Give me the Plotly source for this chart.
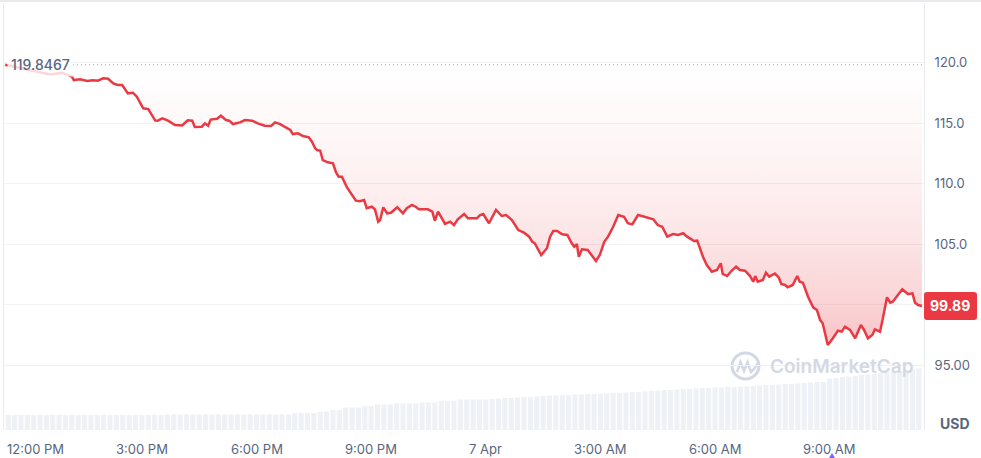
import pandas as pd
import plotly.graph_objects as go

# ---------------- data ----------------
open_time = pd.Timestamp("2025-04-06 11:25")
open_price = 119.8467
last_price = 99.89

minutes_since_open = [
    0, 44, 71, 90, 105, 108, 118, 129, 138, 146, 154, 162, 170, 177, 184, 193, 201, 207, 217, 225,
    236, 240, 247, 256, 267, 278, 287, 294, 298, 309, 314, 319, 323, 333, 339, 347, 352, 358, 369, 377,
    388, 397, 408, 418, 424, 432, 440, 448, 452, 460, 468, 477, 482, 487, 490, 495, 499, 507, 515, 520,
    524, 529, 537, 545, 551, 557, 564, 568, 576, 581, 586, 589, 594, 600, 606, 616, 625, 631, 639, 645,
    650, 664, 671, 675, 680, 691, 699, 705, 711, 721, 727, 741, 746, 751, 760, 771, 780, 787, 796, 806,
    815, 823, 828, 832, 842, 851, 856, 861, 867, 875, 883, 890, 894, 898, 901, 906, 915, 928, 934, 941,
    947, 955, 963, 972, 978, 985, 994, 1000, 1007, 1011, 1018, 1025, 1032, 1040, 1049, 1057, 1065, 1071, 1076, 1082,
    1087, 1096, 1102, 1110, 1118, 1124, 1127, 1134, 1141, 1148, 1154, 1162, 1170, 1175, 1178, 1182, 1190, 1195, 1200, 1209,
    1215, 1219, 1225, 1229, 1237, 1244, 1248, 1253, 1261, 1269, 1275, 1280, 1284, 1292, 1300, 1308, 1314, 1319, 1327, 1335,
    1344, 1349, 1355, 1362, 1366, 1374, 1378, 1385, 1390, 1394, 1409, 1418, 1425, 1429, 1434, 1440,
]

prices = [
    119.85, 119.33, 119.04, 119.19, 118.87, 118.58, 118.64, 118.50, 118.56, 118.53, 118.72, 118.69, 118.31, 118.17, 118.17, 117.48, 117.53, 117.20, 116.24, 116.18,
    115.23, 115.22, 115.41, 115.22, 114.86, 114.82, 115.25, 115.22, 114.69, 114.72, 115.00, 114.80, 115.31, 115.38, 115.63, 115.27, 115.22, 114.94, 115.08, 115.27,
    115.22, 115.00, 114.80, 114.78, 115.08, 114.94, 114.67, 114.45, 114.11, 114.17, 113.95, 113.84, 113.48, 112.93, 112.79, 112.73, 111.96, 111.77, 111.69, 110.91,
    110.58, 110.58, 109.70, 109.07, 108.60, 108.55, 108.65, 107.97, 108.10, 107.88, 106.86, 107.00, 108.05, 107.55, 107.60, 108.05, 107.55, 107.97, 108.24, 108.10,
    107.88, 107.88, 107.69, 106.94, 107.69, 106.67, 106.86, 106.58, 107.06, 107.49, 107.14, 107.14, 107.41, 107.49, 106.73, 107.83, 107.33, 107.41, 107.00, 106.17,
    105.95, 105.62, 105.20, 105.07, 104.10, 104.66, 105.62, 106.09, 106.09, 105.82, 105.76, 105.07, 104.79, 105.01, 103.96, 104.57, 104.52, 103.61, 104.10, 105.20,
    105.62, 106.44, 107.41, 107.27, 106.73, 106.64, 107.41, 107.33, 107.22, 107.22, 107.06, 106.58, 106.44, 105.62, 105.84, 105.76, 105.90, 105.62, 105.48, 105.26,
    105.29, 103.96, 103.27, 102.72, 102.86, 103.42, 102.53, 102.36, 102.80, 103.13, 102.86, 102.80, 102.36, 101.89, 102.36, 101.89, 102.03, 102.64, 102.31, 102.57,
    102.24, 101.70, 101.62, 101.43, 101.62, 102.36, 101.89, 101.81, 100.65, 99.77, 99.55, 98.72, 98.45, 96.65, 97.21, 97.84, 97.76, 98.17, 97.90, 97.21,
    98.31, 97.90, 97.21, 97.48, 97.95, 97.76, 98.72, 100.60, 100.16, 100.24, 101.26, 100.87, 100.93, 100.16, 99.96, 99.89,
]

# 10-minute volume bars (millions USD)
volume_musd = [
    1.50, 1.50, 1.50, 1.50, 1.50, 1.50, 1.50, 1.50, 1.50, 1.50, 1.50, 1.50, 1.50, 1.50, 1.50, 1.50, 1.50, 1.50, 1.50, 1.50,
    1.50, 1.50, 1.50, 1.50, 1.50, 1.55, 1.55, 1.55, 1.55, 1.55, 1.55, 1.55, 1.55, 1.55, 1.55, 1.55, 1.55, 1.55, 1.55, 1.55,
    1.55, 1.55, 1.55, 1.55, 1.55, 1.70, 1.70, 1.70, 1.70, 1.80, 1.85, 2.00, 2.00, 2.25, 2.25, 2.25, 2.40, 2.40, 2.55, 2.55,
    2.55, 2.65, 2.65, 2.65, 2.65, 2.75, 2.75, 2.75, 2.90, 2.90, 2.90, 3.05, 3.05, 3.05, 3.05, 3.05, 3.10, 3.15, 3.20, 3.20,
    3.25, 3.30, 3.30, 3.35, 3.40, 3.45, 3.45, 3.50, 3.50, 3.55, 3.55, 3.60, 3.60, 3.65, 3.65, 3.70, 3.70, 3.75, 3.80, 3.80,
    3.85, 3.90, 3.95, 4.00, 4.00, 4.05, 4.10, 4.10, 4.15, 4.20, 4.20, 4.25, 4.25, 4.30, 4.30, 4.35, 4.35, 4.40, 4.45, 4.50,
    4.50, 4.55, 4.60, 4.60, 4.65, 4.70, 4.75, 4.80, 4.80, 5.15, 5.20, 5.30, 5.35, 5.40, 5.50, 5.55, 5.60, 5.70, 5.75, 5.80,
    5.90, 6.00, 6.05, 6.15,
]
bar_minutes = 10

tick_times = ["2025-04-06 12:00", "2025-04-06 15:00", "2025-04-06 18:00", "2025-04-06 21:00",
              "2025-04-07 00:00", "2025-04-07 03:00", "2025-04-07 06:00", "2025-04-07 09:00"]
tick_labels = ["12:00 PM", "3:00 PM", "6:00 PM", "9:00 PM", "7 Apr", "3:00 AM", "6:00 AM", "9:00 AM"]

price_ticks = [95, 100, 105, 110, 115, 120]
# the 100.0 label sits under the last-price badge, so it is left blank
price_tick_text = ["95.00", "", "105.0", "110.0", "115.0", "120.0"]

if len(minutes_since_open) != len(prices):
    raise ValueError("length mismatch %d vs %d" % (len(minutes_since_open), len(prices)))

# ---------------- layout geometry ----------------
W, H = 981, 458
ML, MR, MT, MB = 4, 57, 3, 28
PW, PH = W - ML - MR, H - MT - MB
y_range = [89.621, 124.957]
vol_range = [0, 42.7]
min_per_px = 1.5703
x_start = open_time - pd.Timedelta(minutes=1 * min_per_px)
x_end = open_time + pd.Timedelta(minutes=(PW - 1) * min_per_px)


def px(x):
    return (x - ML) / PW


def py(y):
    return (H - MB - y) / PH


def pval(v):
    return (v - y_range[0]) / (y_range[1] - y_range[0])


times = [open_time + pd.Timedelta(minutes=m) for m in minutes_since_open]
bar_times = [open_time + pd.Timedelta(minutes=bar_minutes * i + bar_minutes / 2) for i in range(len(volume_musd))]

RED = "#ea3943"
GREY = "#58667e"
FONT = "Inter"

fig = go.Figure()

fig.add_trace(go.Scatter(
    x=[times[0], times[-1]], y=[open_price, open_price], mode="lines",
    line=dict(width=0, color="rgba(0,0,0,0)"), hoverinfo="skip", showlegend=False,
))
fig.add_trace(go.Scatter(
    x=times, y=prices, mode="lines",
    line=dict(color=RED, width=2.5),
    fill="tonexty",
    fillgradient=dict(
        type="vertical",
        colorscale=[[0.0, "rgba(234,57,67,0.30)"], [0.15, "rgba(234,57,67,0.22)"],
                    [0.36, "rgba(234,57,67,0.14)"], [0.52, "rgba(234,57,67,0.09)"],
                    [0.75, "rgba(234,57,67,0.04)"], [1.0, "rgba(234,57,67,0.0)"]],
        start=min(prices), stop=open_price,
    ),
    hoverinfo="skip", showlegend=False,
))
fig.add_trace(go.Bar(
    x=bar_times, y=volume_musd, yaxis="y2",
    marker=dict(color="#eef1f5", line=dict(width=0)),
    hoverinfo="skip", showlegend=False,
))

shapes = []
# top border
shapes.append(dict(type="line", xref="paper", yref="paper", x0=px(0), x1=px(W), y0=py(1), y1=py(1),
                   line=dict(color="#e8eaee", width=2)))
# open price dotted line
shapes.append(dict(type="line", xref="paper", yref="paper", x0=px(5), x1=px(922),
                   y0=pval(open_price), y1=pval(open_price),
                   line=dict(color="#9ba3b4", width=1, dash="1px,3px")))
# last price box
bw, bh, r = 53, 28, 3
box_path = (f"M {r},{-bh/2} L {bw-r},{-bh/2} Q {bw},{-bh/2} {bw},{-bh/2+r} L {bw},{bh/2-r} "
            f"Q {bw},{bh/2} {bw-r},{bh/2} L {r},{bh/2} Q 0,{bh/2} 0,{bh/2-r} L 0,{-bh/2+r} "
            f"Q 0,{-bh/2} {r},{-bh/2} Z")
shapes.append(dict(type="path", xref="paper", yref="paper", xsizemode="pixel", ysizemode="pixel",
                   xanchor=px(924), yanchor=pval(last_price), path=box_path,
                   fillcolor=RED, line=dict(width=0)))
# watermark logo
WM = "#d3d9e4"
shapes.append(dict(type="circle", xref="paper", yref="paper", x0=px(732), x1=px(759), y0=py(379), y1=py(353),
                   line=dict(color=WM, width=3), layer="below"))
wave = [(737, 372), (740.5, 362), (744, 371), (747.5, 362), (751, 372), (754, 369), (758, 363)]
wave_path = "M " + " L ".join(f"{px(a)},{py(b)}" for a, b in wave)
shapes.append(dict(type="path", xref="paper", yref="paper", path=wave_path,
                   line=dict(color=WM, width=2.5), layer="below"))
# purple event marker
shapes.append(dict(type="path", xref="paper", yref="paper",
                   path=f"M {px(829)},{py(458)} L {px(835)},{py(458)} L {px(832)},{py(453)} Z",
                   fillcolor="#7b61ff", line=dict(width=0)))

annotations = []
for i, (t, lab) in enumerate(zip(tick_times, tick_labels)):
    if i == 0:
        annotations.append(dict(x=px(5), xref="paper", xanchor="left", y=py(449), yref="paper",
                                yanchor="middle", text=lab, showarrow=False,
                                font=dict(family=FONT, size=13, color=GREY)))
    else:
        annotations.append(dict(x=pd.Timestamp(t), xref="x", xanchor="center", y=py(449), yref="paper",
                                yanchor="middle", text=lab, showarrow=False,
                                font=dict(family=FONT, size=13, color=GREY)))
annotations.append(dict(x=px(955), xref="paper", y=py(423), yref="paper", text="USD", showarrow=False,
                        xanchor="center", yanchor="middle",
                        font=dict(family=FONT, size=14, color=GREY, weight=700)))
annotations.append(dict(x=px(950.5), xref="paper", y=pval(last_price), yref="paper", text=f"{last_price:.2f}",
                        showarrow=False, xanchor="center", yanchor="middle",
                        font=dict(family=FONT, size=14, color="white", weight=700)))
annotations.append(dict(x=px(7), xref="paper", xanchor="left", y=pval(open_price), yref="paper",
                        yanchor="middle", text=f"{open_price:.4f}", showarrow=False,
                        bgcolor="rgba(255,255,255,0.8)", borderpad=3,
                        font=dict(family=FONT, size=14, color=GREY, weight=500)))
annotations.append(dict(x=px(768), xref="paper", xanchor="left", y=py(366), yref="paper", yanchor="middle",
                        text="CoinMarketCap", showarrow=False,
                        font=dict(family=FONT, size=19, color=WM, weight=600)))

fig.update_layout(
    width=W, height=H,
    margin=dict(l=ML, r=MR, t=MT, b=MB),
    paper_bgcolor="white", plot_bgcolor="white",
    showlegend=False, bargap=0.2,
    xaxis=dict(type="date", range=[x_start, x_end], showgrid=False, zeroline=False,
               showticklabels=False, showline=False, ticks=""),
    yaxis=dict(side="right", range=y_range, tickvals=price_ticks, ticktext=price_tick_text,
               showgrid=True, gridcolor="#eff1f4", gridwidth=1, zeroline=False,
               ticks="", ticklabelstandoff=7,
               tickfont=dict(family=FONT, size=13, color=GREY),
               showline=True, linecolor="#e9ebef", linewidth=1, mirror=True),
    yaxis2=dict(overlaying="y", range=vol_range, visible=False),
    shapes=shapes, annotations=annotations,
)

fig.write_html("out.html", config={"displayModeBar": False},
               post_script="document.body.style.margin='0';document.body.style.padding='0';")
